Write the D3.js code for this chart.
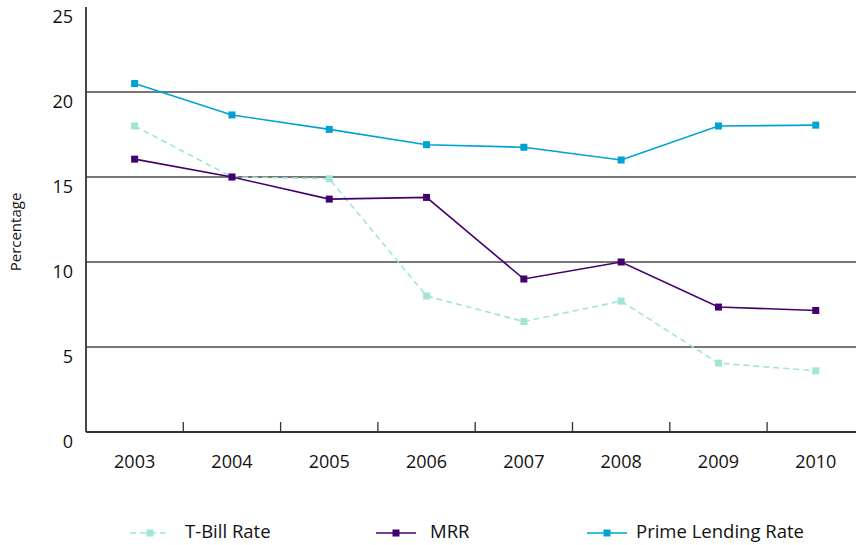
<!DOCTYPE html>
<html>
<head>
<meta charset="utf-8">
<script src="https://cdn.jsdelivr.net/npm/d3@7"></script>
<style>
  body { margin: 0; background: #fff; }
  text { font-family: "Open Sans", sans-serif; fill: #111; }
</style>
</head>
<body>
<div id="chart"></div>
<script>
// data
var years = ["2003", "2004", "2005", "2006", "2007", "2008", "2009", "2010"];
var tbill = [18.0, 15.0, 14.9, 8.0, 6.5, 7.7, 4.05, 3.6];
var mrr = [16.05, 15.0, 13.7, 13.8, 9.0, 10.0, 7.35, 7.15];
var prime = [20.5, 18.65, 17.8, 16.9, 16.75, 16.0, 18.0, 18.05];
var yTicks = [0, 5, 10, 15, 20, 25];

var W = 856, H = 545;
// plot box
var box = {left: 86, top: 7, bottom: 432, right: 856};

var svg = d3.select("#chart").append("svg")
  .attr("width", W)
  .attr("height", H);

var x = d3.scaleBand()
  .domain(years)
  .range([box.left, box.left + 97.3 * years.length]);

var y = d3.scaleLinear()
  .domain([0, 25])
  .range([box.bottom, box.top]);

// gridlines
svg.append("g")
  .selectAll("line")
  .data(yTicks.filter(function(d) { return d > 0 && d < 25; }))
  .enter().append("line")
  .attr("x1", box.left).attr("x2", box.right)
  .attr("y1", function(d) { return y(d); })
  .attr("y2", function(d) { return y(d); })
  .attr("stroke", "#4a4a4a")
  .attr("stroke-width", 1.3);

// y labels
svg.append("g")
  .selectAll("text")
  .data(yTicks)
  .enter().append("text")
  .attr("x", 73)
  .attr("y", function(d) { return y(d) + 11; })
  .attr("text-anchor", "end")
  .attr("dominant-baseline", "middle")
  .style("font-size", "18px")
  .text(function(d) { return d; });

// y axis line
svg.append("line")
  .attr("x1", box.left).attr("x2", box.left)
  .attr("y1", box.top).attr("y2", box.bottom)
  .attr("stroke", "#333").attr("stroke-width", 1.8);

// x axis line
svg.append("line")
  .attr("x1", box.left).attr("x2", box.right)
  .attr("y1", box.bottom).attr("y2", box.bottom)
  .attr("stroke", "#333").attr("stroke-width", 1.8);

// x ticks between categories
svg.append("g")
  .selectAll("line")
  .data(years.slice(1))
  .enter().append("line")
  .attr("x1", function(d) { return x(d); })
  .attr("x2", function(d) { return x(d); })
  .attr("y1", box.bottom).attr("y2", box.bottom - 10)
  .attr("stroke", "#333").attr("stroke-width", 1.3);

// x labels
svg.append("g")
  .selectAll("text")
  .data(years)
  .enter().append("text")
  .attr("x", function(d) { return x(d) + x.bandwidth() / 2; })
  .attr("y", 463)
  .attr("text-anchor", "middle")
  .attr("dominant-baseline", "middle")
  .style("font-size", "18px")
  .text(function(d) { return d; });

// y title
svg.append("text")
  .attr("transform", "translate(17,232) rotate(-90)")
  .attr("text-anchor", "middle")
  .attr("dominant-baseline", "middle")
  .style("font-size", "15px")
  .text("Percentage");

var series = [
  {name: "T-Bill Rate", values: tbill, color: "#a0e6d8", dash: "6,4", lx: 130, tx: 185},
  {name: "MRR", values: mrr, color: "#45006f", dash: null, lx: 376, tx: 430},
  {name: "Prime Lending Rate", values: prime, color: "#00a2d4", dash: null, lx: 587, tx: 636}
];

var line = d3.line()
  .x(function(d, i) { return x(years[i]) + x.bandwidth() / 2; })
  .y(function(d) { return y(d); });

series.forEach(function(s) {
  svg.append("path")
    .datum(s.values)
    .attr("fill", "none")
    .attr("stroke", s.color)
    .attr("stroke-width", 1.6)
    .attr("stroke-dasharray", s.dash)
    .attr("d", line);

  svg.append("g")
    .selectAll("rect")
    .data(s.values)
    .enter().append("rect")
    .attr("x", function(d, i) { return x(years[i]) + x.bandwidth() / 2 - 3.5; })
    .attr("y", function(d) { return y(d) - 3.5; })
    .attr("width", 7).attr("height", 7)
    .attr("fill", s.color);

  // legend
  var ly = 533;
  svg.append("line")
    .attr("x1", s.lx).attr("x2", s.lx + 40)
    .attr("y1", ly).attr("y2", ly)
    .attr("stroke", s.color)
    .attr("stroke-width", 1.6)
    .attr("stroke-dasharray", s.dash);
  svg.append("rect")
    .attr("x", s.lx + 20 - 3.5).attr("y", ly - 3.5)
    .attr("width", 7).attr("height", 7)
    .attr("fill", s.color);
  svg.append("text")
    .attr("x", s.tx)
    .attr("y", ly)
    .attr("dominant-baseline", "middle")
    .style("font-size", "18.5px")
    .text(s.name);
});
</script>
</body>
</html>
